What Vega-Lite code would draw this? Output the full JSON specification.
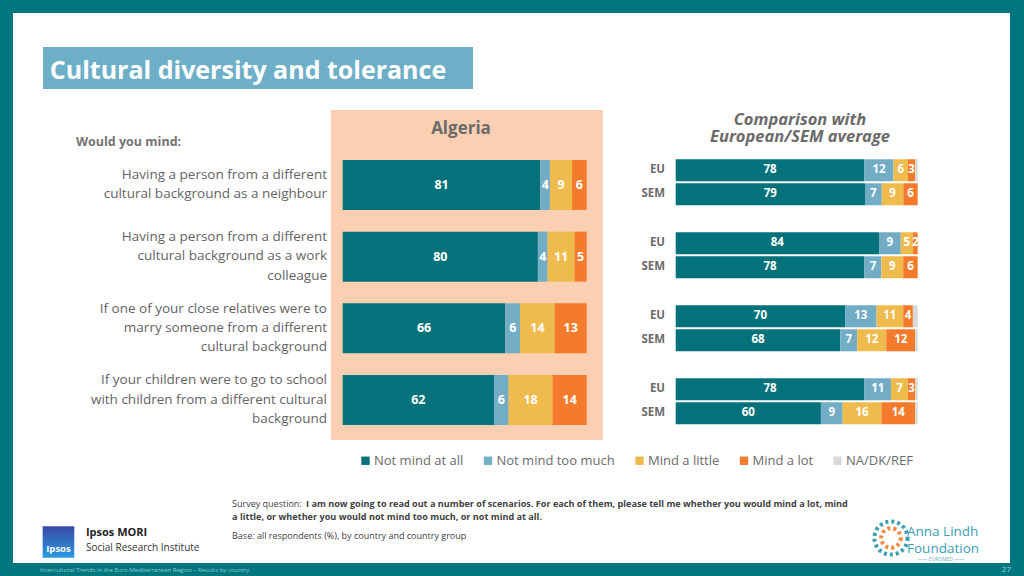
{
  "$schema": "https://vega.github.io/schema/vega-lite/v6.json",
  "background": "white",
  "padding": 0,
  "spacing": 0,
  "config": {
    "view": {"stroke": null},
    "font": "Open Sans",
    "concat": {"spacing": 0},
    "title": {"font": "Open Sans"},
    "text": {"font": "Open Sans"},
    "legend": {"labelFont": "Open Sans"}
  },
  "datasets": {
    "questions": [
      {"q": "neighbour", "label": ["Having a person from a different", "cultural background as a neighbour"]},
      {"q": "colleague", "label": ["Having a person from a different", "cultural background as a work", "colleague"]},
      {"q": "marry", "label": ["If one of your close relatives were to", "marry someone from a different", "cultural background"]},
      {"q": "school", "label": ["If your children were to go to school", "with children from a different cultural", "background"]}
    ],
    "alg": [
      {"q": "neighbour", "cat": "Not mind at all", "v": 81},
      {"q": "neighbour", "cat": "Not mind too much", "v": 4},
      {"q": "neighbour", "cat": "Mind a little", "v": 9},
      {"q": "neighbour", "cat": "Mind a lot", "v": 6},
      {"q": "neighbour", "cat": "NA/DK/REF", "v": 0},
      {"q": "colleague", "cat": "Not mind at all", "v": 80},
      {"q": "colleague", "cat": "Not mind too much", "v": 4},
      {"q": "colleague", "cat": "Mind a little", "v": 11},
      {"q": "colleague", "cat": "Mind a lot", "v": 5},
      {"q": "colleague", "cat": "NA/DK/REF", "v": 0},
      {"q": "marry", "cat": "Not mind at all", "v": 66},
      {"q": "marry", "cat": "Not mind too much", "v": 6},
      {"q": "marry", "cat": "Mind a little", "v": 14},
      {"q": "marry", "cat": "Mind a lot", "v": 13},
      {"q": "marry", "cat": "NA/DK/REF", "v": 0},
      {"q": "school", "cat": "Not mind at all", "v": 62},
      {"q": "school", "cat": "Not mind too much", "v": 6},
      {"q": "school", "cat": "Mind a little", "v": 18},
      {"q": "school", "cat": "Mind a lot", "v": 14},
      {"q": "school", "cat": "NA/DK/REF", "v": 0}
    ],
    "cmp": [
      {"q": "neighbour", "grp": "EU", "cat": "Not mind at all", "v": 78},
      {"q": "neighbour", "grp": "EU", "cat": "Not mind too much", "v": 12},
      {"q": "neighbour", "grp": "EU", "cat": "Mind a little", "v": 6},
      {"q": "neighbour", "grp": "EU", "cat": "Mind a lot", "v": 3},
      {"q": "neighbour", "grp": "EU", "cat": "NA/DK/REF", "v": 1},
      {"q": "neighbour", "grp": "SEM", "cat": "Not mind at all", "v": 79},
      {"q": "neighbour", "grp": "SEM", "cat": "Not mind too much", "v": 7},
      {"q": "neighbour", "grp": "SEM", "cat": "Mind a little", "v": 9},
      {"q": "neighbour", "grp": "SEM", "cat": "Mind a lot", "v": 6},
      {"q": "neighbour", "grp": "SEM", "cat": "NA/DK/REF", "v": 0},
      {"q": "colleague", "grp": "EU", "cat": "Not mind at all", "v": 84},
      {"q": "colleague", "grp": "EU", "cat": "Not mind too much", "v": 9},
      {"q": "colleague", "grp": "EU", "cat": "Mind a little", "v": 5},
      {"q": "colleague", "grp": "EU", "cat": "Mind a lot", "v": 2},
      {"q": "colleague", "grp": "EU", "cat": "NA/DK/REF", "v": 0},
      {"q": "colleague", "grp": "SEM", "cat": "Not mind at all", "v": 78},
      {"q": "colleague", "grp": "SEM", "cat": "Not mind too much", "v": 7},
      {"q": "colleague", "grp": "SEM", "cat": "Mind a little", "v": 9},
      {"q": "colleague", "grp": "SEM", "cat": "Mind a lot", "v": 6},
      {"q": "colleague", "grp": "SEM", "cat": "NA/DK/REF", "v": 0},
      {"q": "marry", "grp": "EU", "cat": "Not mind at all", "v": 70},
      {"q": "marry", "grp": "EU", "cat": "Not mind too much", "v": 13},
      {"q": "marry", "grp": "EU", "cat": "Mind a little", "v": 11},
      {"q": "marry", "grp": "EU", "cat": "Mind a lot", "v": 4},
      {"q": "marry", "grp": "EU", "cat": "NA/DK/REF", "v": 2},
      {"q": "marry", "grp": "SEM", "cat": "Not mind at all", "v": 68},
      {"q": "marry", "grp": "SEM", "cat": "Not mind too much", "v": 7},
      {"q": "marry", "grp": "SEM", "cat": "Mind a little", "v": 12},
      {"q": "marry", "grp": "SEM", "cat": "Mind a lot", "v": 12},
      {"q": "marry", "grp": "SEM", "cat": "NA/DK/REF", "v": 1},
      {"q": "school", "grp": "EU", "cat": "Not mind at all", "v": 78},
      {"q": "school", "grp": "EU", "cat": "Not mind too much", "v": 11},
      {"q": "school", "grp": "EU", "cat": "Mind a little", "v": 7},
      {"q": "school", "grp": "EU", "cat": "Mind a lot", "v": 3},
      {"q": "school", "grp": "EU", "cat": "NA/DK/REF", "v": 1},
      {"q": "school", "grp": "SEM", "cat": "Not mind at all", "v": 60},
      {"q": "school", "grp": "SEM", "cat": "Not mind too much", "v": 9},
      {"q": "school", "grp": "SEM", "cat": "Mind a little", "v": 16},
      {"q": "school", "grp": "SEM", "cat": "Mind a lot", "v": 14},
      {"q": "school", "grp": "SEM", "cat": "NA/DK/REF", "v": 1}
    ]
  },
  "vconcat": [
    {"width": 1024, "height": 13, "view": {"fill": "#00777f", "stroke": null}, "data": {"values": [{}]}, "mark": {"type": "text", "text": ""}},
    {
      "spacing": 0,
      "hconcat": [
        {"width": 13, "height": 550, "view": {"fill": "#00777f", "stroke": null}, "data": {"values": [{}]}, "mark": {"type": "text", "text": ""}},
        {
          "spacing": 0,
          "vconcat": [
            {
              "spacing": 0,
              "hconcat": [
                {"width": 30, "height": 97, "data": {"values": [{}]}, "mark": {"type": "text", "text": ""}},
                {
                  "spacing": 0,
                  "bounds": "flush",
                  "vconcat": [
                    {"width": 430, "height": 34, "data": {"values": [{}]}, "mark": {"type": "text", "text": ""}},
                    {
                      "width": 430, "height": 42,
                      "view": {"fill": "#6eafc8", "stroke": null},
                      "data": {"values": [{"t": "Cultural diversity and tolerance"}]},
                      "mark": {"type": "text", "align": "center", "baseline": "middle", "dx": -10, "dy": 3, "fontSize": 25, "fontWeight": "bold", "color": "white"},
                      "encoding": {"text": {"field": "t"}}
                    }
                  ]
                }
              ]
            },
            {
              "spacing": 0,
              "bounds": "flush",
              "hconcat": [
                {
                  "width": 318, "height": 330,
                  "title": {"text": "Would you mind:", "anchor": "start", "offset": 0, "dx": 63, "dy": 38, "fontSize": 12.5, "fontWeight": "bold", "color": "#737373"},
                  "data": {"name": "questions"},
                  "encoding": {
                    "x": {"value": "width"},
                    "y": {"field": "q", "type": "nominal", "axis": null, "scale": {"type": "band", "domain": ["neighbour", "colleague", "marry", "school"], "paddingInner": 0.3023, "paddingOuter": 0.4534, "align": 0.769, "round": false}},
                    "text": {"field": "label"}
                  },
                  "layer": [
                    {
                      "transform": [{"filter": "length(datum.label) == 2"}],
                      "mark": {"type": "text", "align": "right", "baseline": "middle", "dx": -4, "dy": -10, "fontSize": 13.5, "color": "#646464", "lineHeight": 19.3}
                    },
                    {
                      "transform": [{"filter": "length(datum.label) == 3"}],
                      "mark": {"type": "text", "align": "right", "baseline": "middle", "dx": -4, "dy": -19.5, "fontSize": 13.5, "color": "#646464", "lineHeight": 19.3}
                    }
                  ]
                },
                {
                  "width": 272, "height": 330,
                  "view": {"fill": "#fbcfb2", "stroke": null},
                  "title": {"text": "Algeria", "anchor": "middle", "offset": 0, "dx": -6, "dy": 28, "fontSize": 17, "fontWeight": "bold", "color": "#6b6b6b"},
                  "data": {"name": "alg"},
                  "transform": [{"stack": "v", "groupby": ["q"], "offset": "normalize", "as": ["v0", "v1"]}],
                  "encoding": {
                    "y": {"field": "q", "type": "nominal", "axis": null, "scale": {"type": "band", "domain": ["neighbour", "colleague", "marry", "school"], "paddingInner": 0.3023, "paddingOuter": 0.4534, "align": 0.769, "round": false}}
                  },
                  "layer": [
                    {
                      "mark": {"type": "bar"},
                      "encoding": {
                        "x": {"field": "v0", "type": "quantitative", "axis": null, "scale": {"domain": [-0.048, 1.0668], "nice": false, "zero": false}},
                        "x2": {"field": "v1"},
                        "color": {"field": "cat", "type": "nominal",
                          "scale": {"domain": ["Not mind at all", "Not mind too much", "Mind a little", "Mind a lot", "NA/DK/REF"], "range": ["#04727a", "#73adc5", "#efbb4c", "#f47b2b", "#d9d9d9"]},
                          "legend": {"orient": "none", "legendX": 359, "legendY": 454, "direction": "horizontal", "title": null, "symbolType": "square", "symbolSize": 70, "symbolStrokeWidth": 0, "labelFontSize": 13, "labelColor": "#6b6b6b", "columnPadding": 17.5, "labelOffset": 2}}
                      }
                    },
                    {
                      "transform": [
                        {"filter": "datum.v > 0 && datum.cat != 'NA/DK/REF'"},
                        {"fold": ["v0", "v1"], "as": ["edge", "pos"]},
                        {"aggregate": [{"op": "mean", "field": "pos", "as": "mid"}], "groupby": ["q", "cat", "v"]}
                      ],
                      "mark": {"type": "text", "color": "white", "fontWeight": "bold", "fontSize": 12.5, "baseline": "middle"},
                      "encoding": {
                        "x": {"field": "mid", "type": "quantitative", "axis": null, "scale": {"domain": [-0.048, 1.0668], "nice": false, "zero": false}},
                        "text": {"field": "v", "type": "quantitative"}
                      }
                    }
                  ]
                },
                {
                  "width": 407, "height": 330,
                  "title": {"text": "Comparison with", "subtitle": "European/SEM average", "anchor": "middle", "offset": 0, "dx": -6.5, "dy": 35, "subtitlePadding": 0, "fontSize": 16.5, "fontWeight": "bold", "fontStyle": "italic", "color": "#6b6b6b", "subtitleFontSize": 16.5, "subtitleFontWeight": "bold", "subtitleFontStyle": "italic", "subtitleColor": "#6b6b6b", "subtitleFont": "Open Sans", "lineHeight": 16, "subtitleLineHeight": 16},
                  "data": {"name": "cmp"},
                  "transform": [{"stack": "v", "groupby": ["q", "grp"], "offset": "normalize", "as": ["v0", "v1"]}],
                  "encoding": {
                    "y": {"field": "q", "type": "nominal", "axis": null, "scale": {"type": "band", "domain": ["neighbour", "colleague", "marry", "school"], "paddingInner": 0.3699, "paddingOuter": 0.4452, "align": 0.758, "round": false}},
                    "yOffset": {"field": "grp", "type": "nominal", "scale": {"domain": ["EU", "SEM"], "paddingInner": 0.0833, "paddingOuter": 0, "round": false}}
                  },
                  "layer": [
                    {
                      "mark": {"type": "bar"},
                      "encoding": {
                        "x": {"field": "v0", "type": "quantitative", "axis": null, "scale": {"domain": [-0.3004, 1.3814], "nice": false, "zero": false}},
                        "x2": {"field": "v1"},
                        "color": {"field": "cat", "type": "nominal",
                          "scale": {"domain": ["Not mind at all", "Not mind too much", "Mind a little", "Mind a lot", "NA/DK/REF"], "range": ["#04727a", "#73adc5", "#efbb4c", "#f47b2b", "#d9d9d9"]},
                          "legend": {"orient": "none", "legendX": 359, "legendY": 454, "direction": "horizontal", "title": null, "symbolType": "square", "symbolSize": 70, "symbolStrokeWidth": 0, "labelFontSize": 13, "labelColor": "#6b6b6b", "columnPadding": 17.5, "labelOffset": 2}}
                      }
                    },
                    {
                      "transform": [
                        {"filter": "datum.v > 0 && datum.cat != 'NA/DK/REF'"},
                        {"fold": ["v0", "v1"], "as": ["edge", "pos"]},
                        {"aggregate": [{"op": "mean", "field": "pos", "as": "mid"}], "groupby": ["q", "grp", "cat", "v"]}
                      ],
                      "mark": {"type": "text", "color": "white", "fontWeight": "bold", "fontSize": 11.5, "baseline": "middle"},
                      "encoding": {
                        "x": {"field": "mid", "type": "quantitative", "axis": null, "scale": {"domain": [-0.3004, 1.3814], "nice": false, "zero": false}},
                        "text": {"field": "v", "type": "quantitative"}
                      }
                    },
                    {
                      "transform": [{"filter": "datum.cat == 'Not mind at all'"}],
                      "mark": {"type": "text", "color": "#6b6b6b", "fontWeight": "bold", "fontSize": 11.5, "align": "right", "baseline": "middle"},
                      "encoding": {
                        "x": {"datum": -0.044, "type": "quantitative", "axis": null, "scale": {"domain": [-0.3004, 1.3814], "nice": false, "zero": false}},
                        "text": {"field": "grp"}
                      }
                    }
                  ]
                }
              ]
            },
            {
              "width": 997, "height": 123,
              "data": {"values": [{}]},
              "layer": [
                {"mark": {"type": "text", "text": "Survey question:", "align": "left", "baseline": "middle", "fontSize": 9, "color": "#404040"},
                 "encoding": {"x": {"datum": 0.2197, "type": "quantitative", "axis": null, "scale": {"domain": [0, 1]}}, "y": {"datum": 0.5203, "type": "quantitative", "axis": null, "scale": {"domain": [0, 1], "reverse": true}}}},
                {"mark": {"type": "text", "text": "I am now going to read out a number of scenarios. For each of them, please tell me whether you would mind a lot, mind", "align": "left", "baseline": "middle", "fontSize": 9.1, "fontWeight": "bold", "color": "#404040"},
                 "encoding": {"x": {"datum": 0.2939, "type": "quantitative", "axis": null, "scale": {"domain": [0, 1]}}, "y": {"datum": 0.5203, "type": "quantitative", "axis": null, "scale": {"domain": [0, 1], "reverse": true}}}},
                {"mark": {"type": "text", "text": "a little, or whether you would not mind too much, or not mind at all.", "align": "left", "baseline": "middle", "fontSize": 9.1, "fontWeight": "bold", "color": "#404040"},
                 "encoding": {"x": {"datum": 0.2197, "type": "quantitative", "axis": null, "scale": {"domain": [0, 1]}}, "y": {"datum": 0.626, "type": "quantitative", "axis": null, "scale": {"domain": [0, 1], "reverse": true}}}},
                {"mark": {"type": "text", "text": "Base: all respondents (%), by country and country group", "align": "left", "baseline": "middle", "fontSize": 9, "color": "#404040"},
                 "encoding": {"x": {"datum": 0.2197, "type": "quantitative", "axis": null, "scale": {"domain": [0, 1]}}, "y": {"datum": 0.7805, "type": "quantitative", "axis": null, "scale": {"domain": [0, 1], "reverse": true}}}},
                {"mark": {"type": "point", "shape": "square", "size": 1000, "filled": true, "opacity": 1, "fill": {"gradient": "linear", "x1": 0, "y1": 0, "x2": 0, "y2": 1, "stops": [{"offset": 0, "color": "#3a48a8"}, {"offset": 1, "color": "#2a9ade"}]}},
                 "encoding": {"x": {"datum": 0.0456, "type": "quantitative", "axis": null, "scale": {"domain": [0, 1]}}, "y": {"datum": 0.829, "type": "quantitative", "axis": null, "scale": {"domain": [0, 1], "reverse": true}}}},
                {"mark": {"type": "text", "text": "Ipsos", "align": "center", "baseline": "middle", "fontSize": 9.5, "fontWeight": "bold", "color": "white"},
                 "encoding": {"x": {"datum": 0.0456, "type": "quantitative", "axis": null, "scale": {"domain": [0, 1]}}, "y": {"datum": 0.886, "type": "quantitative", "axis": null, "scale": {"domain": [0, 1], "reverse": true}}}},
                {"mark": {"type": "text", "text": "Ipsos MORI", "align": "left", "baseline": "middle", "fontSize": 11, "fontWeight": "bold", "color": "#222222"},
                 "encoding": {"x": {"datum": 0.0732, "type": "quantitative", "axis": null, "scale": {"domain": [0, 1]}}, "y": {"datum": 0.756, "type": "quantitative", "axis": null, "scale": {"domain": [0, 1], "reverse": true}}}},
                {"mark": {"type": "text", "text": "Social Research Institute", "align": "left", "baseline": "middle", "fontSize": 10, "color": "#333333"},
                 "encoding": {"x": {"datum": 0.0732, "type": "quantitative", "axis": null, "scale": {"domain": [0, 1]}}, "y": {"datum": 0.878, "type": "quantitative", "axis": null, "scale": {"domain": [0, 1], "reverse": true}}}},
                {"mark": {"type": "point", "shape": "circle", "size": 1100, "filled": false, "stroke": "#3a9fb0", "strokeWidth": 4, "strokeDash": [3, 3], "opacity": 1},
                 "encoding": {"x": {"datum": 0.8806, "type": "quantitative", "axis": null, "scale": {"domain": [0, 1]}}, "y": {"datum": 0.797, "type": "quantitative", "axis": null, "scale": {"domain": [0, 1], "reverse": true}}}},
                {"mark": {"type": "point", "shape": "circle", "size": 380, "filled": false, "stroke": "#f08a3c", "strokeWidth": 4, "strokeDash": [3, 3], "opacity": 1},
                 "encoding": {"x": {"datum": 0.8806, "type": "quantitative", "axis": null, "scale": {"domain": [0, 1]}}, "y": {"datum": 0.797, "type": "quantitative", "axis": null, "scale": {"domain": [0, 1], "reverse": true}}}},
                {"mark": {"type": "text", "text": "Anna Lindh", "align": "left", "baseline": "middle", "fontSize": 13.5, "color": "#3aa0b6"},
                 "encoding": {"x": {"datum": 0.8967, "type": "quantitative", "axis": null, "scale": {"domain": [0, 1]}}, "y": {"datum": 0.745, "type": "quantitative", "axis": null, "scale": {"domain": [0, 1], "reverse": true}}}},
                {"mark": {"type": "text", "text": "Foundation", "align": "left", "baseline": "middle", "fontSize": 13.5, "color": "#3aa0b6"},
                 "encoding": {"x": {"datum": 0.8967, "type": "quantitative", "axis": null, "scale": {"domain": [0, 1]}}, "y": {"datum": 0.886, "type": "quantitative", "axis": null, "scale": {"domain": [0, 1], "reverse": true}}}},
                {"mark": {"type": "text", "text": "——  EUROMED  ——", "align": "center", "baseline": "middle", "fontSize": 5, "color": "#7aaab5"},
                 "encoding": {"x": {"datum": 0.9308, "type": "quantitative", "axis": null, "scale": {"domain": [0, 1]}}, "y": {"datum": 0.967, "type": "quantitative", "axis": null, "scale": {"domain": [0, 1], "reverse": true}}}}
              ]
            }
          ]
        },
        {"width": 14, "height": 550, "view": {"fill": "#00777f", "stroke": null}, "data": {"values": [{}]}, "mark": {"type": "text", "text": ""}}
      ]
    },
    {
      "width": 1024, "height": 13,
      "view": {"fill": "#00777f", "stroke": null},
      "data": {"values": [{}]},
      "layer": [
        {"mark": {"type": "text", "text": "Intercultural Trends in the Euro-Mediterranean Region \u2013 Results by country", "align": "left", "baseline": "middle", "fontSize": 6, "color": "#8fcbd0"},
         "encoding": {"x": {"datum": 0.039, "type": "quantitative", "axis": null, "scale": {"domain": [0, 1]}}}},
        {"mark": {"type": "text", "text": "27", "align": "right", "baseline": "middle", "fontSize": 8, "color": "#9fd3d8"},
         "encoding": {"x": {"datum": 0.9873, "type": "quantitative", "axis": null, "scale": {"domain": [0, 1]}}}}
      ]
    }
  ]
}
